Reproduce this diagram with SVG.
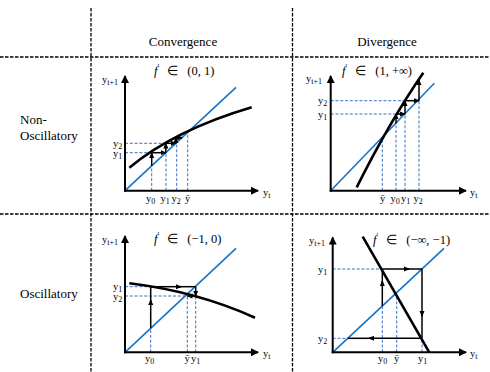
<svg xmlns="http://www.w3.org/2000/svg" width="490" height="372" viewBox="0 0 490 372">
<defs>
<marker id="ax" markerUnits="userSpaceOnUse" markerWidth="9" markerHeight="8" refX="7" refY="4" orient="auto"><path d="M0,0 L8,4 L0,8 Z" fill="#000"/></marker>
<marker id="ar" markerUnits="userSpaceOnUse" markerWidth="7" markerHeight="6" refX="5" refY="3" orient="auto"><path d="M0,0.5 L6,3 L0,5.5 Z" fill="#000"/></marker>
</defs>
<style>
text{font-family:"Liberation Serif","Times New Roman",serif;fill:#000}
.hd{font-size:13px}
.tt{font-size:12.5px}
.lb{font-size:10.5px}
.sb{font-size:8px}
.grid{stroke:#000;stroke-width:1.3;stroke-dasharray:3.5 1.5;fill:none}
.axis{stroke:#000;stroke-width:2;fill:none}
.diag{stroke:#1874c4;stroke-width:1.6;fill:none}
.fn{stroke:#000;stroke-width:2.6;fill:none}
.dash{stroke:#3a6fc4;stroke-width:1;stroke-dasharray:3 1.8;fill:none}
.cw{stroke:#000;stroke-width:1.5;fill:none}
</style>

<g id="grid">
<line class="grid" x1="91" y1="8" x2="91" y2="372"/>
<line class="grid" x1="292.5" y1="8" x2="292.5" y2="372"/>
<line class="grid" x1="0" y1="57" x2="490" y2="57"/>
<line class="grid" x1="0" y1="214" x2="490" y2="214"/>
</g>

<g id="headers">
<text class="hd" x="183" y="46" text-anchor="middle">Convergence</text>
<text class="hd" x="387" y="46" text-anchor="middle">Divergence</text>
<text class="hd" x="20" y="124">Non-</text>
<text class="hd" x="20" y="140">Oscillatory</text>
<text class="hd" x="20" y="297.5">Oscillatory</text>
</g>

<!-- Panel 1: convergence, non-oscillatory -->
<g id="panel1">
<path class="dash" d="M125,143.3 H176.7 M125,152.7 H166 M151.7,190.7 V165.8 M166,190.7 V152.7 M176.7,190.7 V143.3 M187.7,190.7 V132"/>
<line class="diag" x1="125" y1="190.7" x2="236" y2="87.3"/>
<path class="fn" d="M129.3,167.7 Q175,130 251.7,107.3"/>
<g class="cw">
<line x1="151.7" y1="165.8" x2="151.7" y2="152.9" marker-end="url(#ar)"/>
<line x1="151.7" y1="152.7" x2="165.8" y2="152.7" marker-end="url(#ar)"/>
<line x1="165.8" y1="152.7" x2="165.8" y2="143.5" marker-end="url(#ar)"/>
<line x1="165.8" y1="143.3" x2="175.9" y2="143.3" marker-end="url(#ar)"/>
<line x1="175.9" y1="143.3" x2="175.9" y2="137.7" marker-end="url(#ar)"/>
<line x1="175.9" y1="137.7" x2="182.1" y2="137.7" marker-end="url(#ar)"/>
</g>
<line class="axis" x1="125" y1="191.7" x2="125" y2="76" marker-end="url(#ax)"/>
<line class="axis" x1="124" y1="190.7" x2="258" y2="190.7" marker-end="url(#ax)"/>
<text class="lb" x="102" y="83">y<tspan class="sb" dy="2">t+1</tspan></text>
<text class="lb" x="263" y="196">y<tspan class="sb" dy="2">t</tspan></text>
<text class="tt" x="154" y="75"><tspan font-style="italic">f</tspan><tspan font-size="8" dy="-5">′</tspan><tspan dy="5" dx="8">∈</tspan><tspan dx="9">(0, 1)</tspan></text>
<text class="lb" x="113" y="146.5">y<tspan class="sb" dy="2">2</tspan></text>
<text class="lb" x="113" y="157">y<tspan class="sb" dy="2">1</tspan></text>
<text class="lb" x="146" y="202">y<tspan class="sb" dy="2">0</tspan></text>
<text class="lb" x="160.5" y="202">y<tspan class="sb" dy="2">1</tspan></text>
<text class="lb" x="171.5" y="202">y<tspan class="sb" dy="2">2</tspan></text>
<text class="lb" x="185" y="202">ȳ</text>
</g>

<!-- Panel 2: divergence, non-oscillatory -->
<g id="panel2">
<path class="dash" d="M330.7,100.7 H419 M330.7,114 H405 M382.3,190.7 V137 M396,190.7 V123.4 M405,190.7 V114 M419,190.7 V100.7"/>
<line class="diag" x1="330.7" y1="190.7" x2="434.3" y2="83.3"/>
<path class="fn" d="M356.7,187.3 Q389.5,121.7 423.3,72.7"/>
<g class="cw">
<line x1="396" y1="123.4" x2="396" y2="114.2" marker-end="url(#ar)"/>
<line x1="396" y1="114" x2="405" y2="114" marker-end="url(#ar)"/>
<line x1="405" y1="114" x2="405" y2="100.9" marker-end="url(#ar)"/>
<line x1="405" y1="100.7" x2="419" y2="100.7" marker-end="url(#ar)"/>
<line x1="419" y1="100.7" x2="419" y2="80" marker-end="url(#ar)"/>
</g>
<line class="axis" x1="330.7" y1="191.7" x2="330.7" y2="76" marker-end="url(#ax)"/>
<line class="axis" x1="329.7" y1="190.7" x2="466" y2="190.7" marker-end="url(#ax)"/>
<text class="lb" x="306" y="82">y<tspan class="sb" dy="2">t+1</tspan></text>
<text class="lb" x="470" y="196">y<tspan class="sb" dy="2">t</tspan></text>
<text class="tt" x="342" y="75"><tspan font-style="italic">f</tspan><tspan font-size="8" dy="-5">′</tspan><tspan dy="5" dx="8">∈</tspan><tspan dx="9">(1, +∞)</tspan></text>
<text class="lb" x="318" y="104">y<tspan class="sb" dy="2">2</tspan></text>
<text class="lb" x="318" y="118">y<tspan class="sb" dy="2">1</tspan></text>
<text class="lb" x="380" y="202">ȳ</text>
<text class="lb" x="390.5" y="202">y<tspan class="sb" dy="2">0</tspan></text>
<text class="lb" x="401" y="202">y<tspan class="sb" dy="2">1</tspan></text>
<text class="lb" x="413.5" y="202">y<tspan class="sb" dy="2">2</tspan></text>
</g>

<!-- Panel 3: convergence, oscillatory -->
<g id="panel3">
<path class="dash" d="M125,286.7 H150.7 M125,296 H187.3 M150.7,352.3 V328.2 M187.3,352.3 V294 M195.7,352.3 V296"/>
<line class="diag" x1="125" y1="352.3" x2="236" y2="248.3"/>
<path class="fn" d="M129.3,283.3 Q196.5,291.4 255,317.7"/>
<g class="cw">
<line x1="150.7" y1="328.2" x2="150.7" y2="300" marker-end="url(#ar)"/>
<line x1="150.7" y1="302" x2="150.7" y2="286.7"/>
<line x1="150.7" y1="286.7" x2="181" y2="286.7" marker-end="url(#ar)"/>
<line x1="179" y1="286.7" x2="195.7" y2="286.7"/>
<line x1="195.7" y1="286.7" x2="195.7" y2="295.8" marker-end="url(#ar)"/>
<line x1="195.7" y1="296" x2="187.5" y2="296" marker-end="url(#ar)"/>
</g>
<line class="axis" x1="125" y1="353.3" x2="125" y2="236" marker-end="url(#ax)"/>
<line class="axis" x1="124" y1="352.3" x2="258" y2="352.3" marker-end="url(#ax)"/>
<text class="lb" x="102" y="243">y<tspan class="sb" dy="2">t+1</tspan></text>
<text class="lb" x="263" y="357">y<tspan class="sb" dy="2">t</tspan></text>
<text class="tt" x="154" y="243"><tspan font-style="italic">f</tspan><tspan font-size="8" dy="-5">′</tspan><tspan dy="5" dx="8">∈</tspan><tspan dx="9">(−1, 0)</tspan></text>
<text class="lb" x="113" y="289.5">y<tspan class="sb" dy="2">1</tspan></text>
<text class="lb" x="113" y="300">y<tspan class="sb" dy="2">2</tspan></text>
<text class="lb" x="145" y="362">y<tspan class="sb" dy="2">0</tspan></text>
<text class="lb" x="184.5" y="362">ȳ</text>
<text class="lb" x="191" y="362">y<tspan class="sb" dy="2">1</tspan></text>
</g>

<!-- Panel 4: divergence, oscillatory -->
<g id="panel4">
<path class="dash" d="M332.7,269 H382.3 M332.7,338.3 H348 M382.3,352.3 V306 M396.7,352.3 V294 M422,352.3 V339.6"/>
<line class="diag" x1="332.7" y1="352.3" x2="444" y2="248.3"/>
<line class="fn" x1="362.7" y1="236.7" x2="429.3" y2="352.3"/>
<g class="cw">
<line x1="382.3" y1="306" x2="382.3" y2="281" marker-end="url(#ar)"/>
<line x1="382.3" y1="283" x2="382.3" y2="269"/>
<line x1="382.3" y1="269" x2="409" y2="269" marker-end="url(#ar)"/>
<line x1="407" y1="269" x2="422" y2="269"/>
<line x1="422" y1="269" x2="422" y2="316" marker-end="url(#ar)"/>
<line x1="422" y1="314" x2="422" y2="338.3"/>
<line x1="422" y1="338.3" x2="369" y2="338.3" marker-end="url(#ar)"/>
<line x1="371" y1="338.3" x2="348" y2="338.3"/>
</g>
<line class="axis" x1="332.7" y1="353.3" x2="332.7" y2="237.5" marker-end="url(#ax)"/>
<line class="axis" x1="331.7" y1="352.3" x2="466" y2="352.3" marker-end="url(#ax)"/>
<text class="lb" x="309" y="244">y<tspan class="sb" dy="2">t+1</tspan></text>
<text class="lb" x="470" y="357">y<tspan class="sb" dy="2">t</tspan></text>
<text class="tt" x="373" y="244"><tspan font-style="italic">f</tspan><tspan font-size="8" dy="-5">′</tspan><tspan dy="5" dx="8">∈</tspan><tspan dx="9">(−∞, −1)</tspan></text>
<text class="lb" x="318" y="273">y<tspan class="sb" dy="2">1</tspan></text>
<text class="lb" x="318" y="342">y<tspan class="sb" dy="2">2</tspan></text>
<text class="lb" x="378" y="362">y<tspan class="sb" dy="2">0</tspan></text>
<text class="lb" x="394" y="362">ȳ</text>
<text class="lb" x="418" y="362">y<tspan class="sb" dy="2">1</tspan></text>
</g>
</svg>
